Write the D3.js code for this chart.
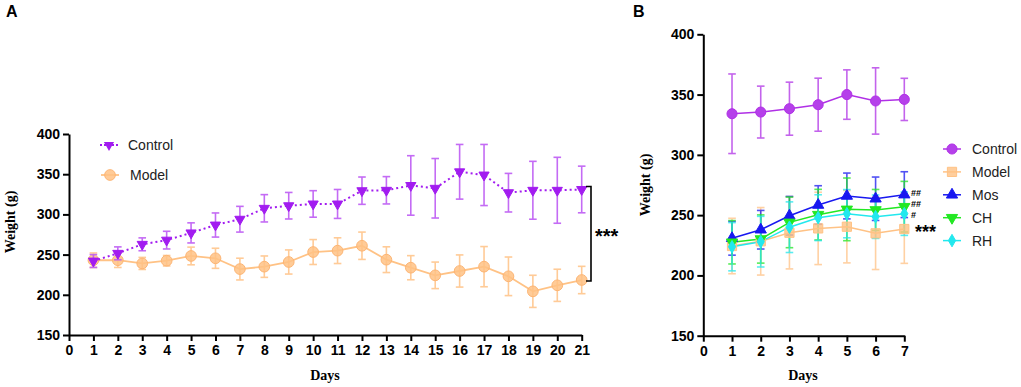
<!DOCTYPE html>
<html><head><meta charset="utf-8">
<script src="https://cdn.jsdelivr.net/npm/d3@7"></script>
<style>
html,body{margin:0;padding:0;background:#fff;}
svg{display:block;}
.tick text{font-family:"Liberation Sans",Arial,sans-serif;font-weight:bold;font-size:14px;fill:#000;}
</style></head>
<body>
<svg id="chart" width="1021" height="387"></svg>
<script>
// ---------- Data: Panel A ----------
const daysA = [1,2,3,4,5,6,7,8,9,10,11,12,13,14,15,16,17,18,19,20,21];
const controlA = [242,251.6,262.8,268,277,286.8,294,307.6,310.8,313,313,329.5,330,336,332.5,353,349,327,330,330,331];
const controlA_sd = [8,8,8,11,12.5,15,16,17,16.5,16.5,18,17,17,37,37,34,38,24,36,41,29];
const modelA = [243,243,239,242.4,248.3,245.4,232,235,240.8,253.2,254.9,261,243.7,233.7,224.2,229.6,235,223,204.3,211.8,218.4];
const modelA_sd = [9,9,7.5,6.5,11,12.5,13.5,13.3,15,15.5,16,17,16,15,16.5,20,25,24,20,20,17];
const xTicksA = [0,1,2,3,4,5,6,7,8,9,10,11,12,13,14,15,16,17,18,19,20,21];
const yTicks = [150,200,250,300,350,400];

// ---------- Data: Panel B ----------
const daysB = [1,2,3,4,5,6,7];
const controlB = [334.1,335.5,338.3,341.6,350,344.7,346];
const controlB_sd = [33,21.5,22,22,20.5,27.5,17.5];
const modelB = [224.4,228.3,235.4,239,240.4,234.9,238.5];
const modelB_sd = [23,28,30,30,30,30,28.5];
const mosB = [230.8,237.9,249.5,258.4,265.9,263.6,267];
const mosB_sd = [14,16,16,16,19,18,19];
const chB = [227.5,230.2,244,250.4,254.8,254.3,257];
const chB_sd = [18,20,21,21,26,17,21];
const rhB = [223.8,228,240,247.9,251.2,248.7,251.2];
const rhB_sd = [20,21,21,19,20,18,18];
const xTicksB = [0,1,2,3,4,5,6,7];
const seriesNamesB = ["Control","Model","Mos","CH","RH"];
const sigB = ["##","##","#","***"];

const svg = d3.select("#chart");
const sans = '"Liberation Sans",Arial,sans-serif';
const serif = '"Liberation Serif","Times New Roman",serif';

function drawAxes(g, x, y, xTicks, xLabelX, yLabelX, yLabelY) {
  const xa = g.append("g").attr("transform", `translate(0,${y.range()[0]})`)
    .call(d3.axisBottom(x).tickValues(xTicks).tickFormat(d3.format("d")).tickSize(6).tickSizeOuter(0).tickPadding(4));
  const ya = g.append("g").attr("transform", `translate(${x.range()[0]},0)`)
    .call(d3.axisLeft(y).tickValues(yTicks).tickSize(6).tickSizeOuter(0).tickPadding(3));
  [xa, ya].forEach(a => { a.selectAll("path,line").attr("stroke","#000").attr("stroke-width",2); });
  g.append("text").attr("x", xLabelX).attr("y", 380).attr("text-anchor","middle")
    .attr("font-family", serif).attr("font-weight","bold").attr("font-size",14).text("Days");
  g.append("text").attr("transform", `translate(${yLabelX},${yLabelY}) rotate(-90)`)
    .attr("text-anchor","middle").attr("dominant-baseline","middle")
    .attr("font-family", serif).attr("font-weight","bold").attr("font-size",14).text("Weight (g)");
}

function errorBars(g, x, y, days, mean, sd, color, opacity) {
  const eg = g.append("g").attr("stroke", color).attr("stroke-width",1.6).attr("opacity", opacity);
  days.forEach((d,i) => {
    const cx = x(d), y1 = y(mean[i]+sd[i]), y2 = y(mean[i]-sd[i]);
    eg.append("line").attr("x1",cx).attr("x2",cx).attr("y1",y1).attr("y2",y2);
    eg.append("line").attr("x1",cx-3.8).attr("x2",cx+3.8).attr("y1",y1).attr("y2",y1);
    eg.append("line").attr("x1",cx-3.8).attr("x2",cx+3.8).attr("y1",y2).attr("y2",y2);
  });
}

function line(g, x, y, days, mean, color, dash, width) {
  g.append("path").datum(days.map((d,i)=>[d,mean[i]]))
    .attr("fill","none").attr("stroke",color).attr("stroke-width",width)
    .attr("stroke-dasharray", dash || null)
    .attr("d", d3.line().x(d=>x(d[0])).y(d=>y(d[1])));
}

function markers(g, x, y, days, mean, sym, size, fill, stroke, rot, fop) {
  days.forEach((d,i) => {
    g.append("path").attr("d", d3.symbol().type(sym).size(size)())
      .attr("transform", `translate(${x(d)},${y(mean[i])}) rotate(${rot||0})`)
      .attr("fill", fill).attr("fill-opacity", fop==null?1:fop).attr("stroke", stroke).attr("stroke-width",1);
  });
}

// ---------- Panel A ----------
const xA = d3.scaleLinear().domain([0,21]).range([69,581.7]);
const yA = d3.scaleLinear().domain([150,400]).range([335,134]);
const gA = svg.append("g");
const purple = "#A21CF0", purpleLight = "#BE5CF4";
const orange = "#FFC285", orangeDark = "#FDB574";

errorBars(gA, xA, yA, daysA, modelA, modelA_sd, orange, 0.85);
line(gA, xA, yA, daysA, modelA, orange, null, 1.8);
markers(gA, xA, yA, daysA, modelA, d3.symbolCircle, 90, orange, orangeDark, 0, 0.85);
errorBars(gA, xA, yA, daysA, controlA, controlA_sd, purpleLight, 0.9);
line(gA, xA, yA, daysA, controlA, purple, "2,3", 2);
markers(gA, xA, yA, daysA, controlA, d3.symbolTriangle, 45, purple, purple, 180, 1);
drawAxes(gA, xA, yA, xTicksA, 325, 12, 222);

// bracket
const bx = 591;
const yb1 = yA(controlA[20]) - 3, yb2 = yA(modelA[20]) + 1;
gA.append("path").attr("d", `M${bx-5},${yb1}H${bx}V${yb2}H${bx-5}`)
  .attr("fill","none").attr("stroke","#000").attr("stroke-width",1.6);
gA.append("text").attr("x",595).attr("y",(yb1+yb2)/2+9).attr("font-family",sans).attr("font-weight","bold")
  .attr("font-size",20).text("***");

// legend A
const legA = gA.append("g");
legA.append("line").attr("x1",100).attr("x2",118).attr("y1",145).attr("y2",145)
  .attr("stroke",purple).attr("stroke-width",2).attr("stroke-dasharray","2,2");
legA.append("path").attr("d", d3.symbol().type(d3.symbolTriangle).size(45)())
  .attr("transform","translate(109,145) rotate(180)").attr("fill",purple);
legA.append("text").attr("x",128).attr("y",150).attr("font-family",sans).attr("font-size",14).attr("fill","#222").text("Control");
legA.append("line").attr("x1",101).attr("x2",119).attr("y1",175).attr("y2",175)
  .attr("stroke",orange).attr("stroke-width",1.8);
legA.append("path").attr("d", d3.symbol().type(d3.symbolCircle).size(90)())
  .attr("transform","translate(110,175)").attr("fill",orange).attr("fill-opacity",0.85).attr("stroke",orangeDark);
legA.append("text").attr("x",130).attr("y",180).attr("font-family",sans).attr("font-size",14).attr("fill","#222").text("Model");

svg.append("text").attr("x",6).attr("y",17).attr("font-family",sans).attr("font-weight","bold").attr("font-size",16).text("A");
svg.append("text").attr("x",633).attr("y",17).attr("font-family",sans).attr("font-weight","bold").attr("font-size",16).text("B");

// ---------- Panel B ----------
const xB = d3.scaleLinear().domain([0,7]).range([703.3,904.3]);
const yB = d3.scaleLinear().domain([150,400]).range([335.7,34.3]);
const gB = svg.append("g");
const cfg = [
  {name:seriesNamesB[0], mean:controlB, sd:controlB_sd, color:"#B030E6", fill:"#B540EA", sym:d3.symbolCircle, size:80, rot:0},
  {name:seriesNamesB[1], mean:modelB, sd:modelB_sd, color:"#FFC285", fill:"#FFC285", sym:d3.symbolSquare, size:85, rot:0},
  {name:seriesNamesB[2], mean:mosB, sd:mosB_sd, color:"#1818F0", fill:"#1818F0", sym:d3.symbolTriangle, size:55, rot:0},
  {name:seriesNamesB[3], mean:chB, sd:chB_sd, color:"#22E822", fill:"#22E822", sym:d3.symbolTriangle, size:55, rot:180},
  {name:seriesNamesB[4], mean:rhB, sd:rhB_sd, color:"#22E8EE", fill:"#22E8EE", sym:d3.symbolDiamond, size:45, rot:0}
];
cfg.forEach(c => errorBars(gB, xB, yB, daysB, c.mean, c.sd, c.color, 0.75));
cfg.forEach(c => line(gB, xB, yB, daysB, c.mean, c.color, null, 1.5));
cfg.forEach(c => markers(gB, xB, yB, daysB, c.mean, c.sym, c.size, c.fill, c.color, c.rot, c.name==="Model"?0.8:1));
drawAxes(gB, xB, yB, xTicksB, 803, 647, 185);

// significance marks (placed beside the day-7 points of Mos, CH, RH, Model)
const sigY = [mosB[6], chB[6], rhB[6], modelB[6]];
const sigDy = [1.8, -0.2, 4.3, 9];
sigB.forEach((s,i) => {
  const big = s === "***";
  gB.append("text").attr("x", big ? 915 : 911).attr("y", yB(sigY[i]) + sigDy[i])
    .attr("font-family", sans).attr("font-weight","bold").attr("font-size", big ? 18 : 9).text(s);
});

// legend B
cfg.forEach((c,i) => {
  const ly = 149 + i*22.9;
  gB.append("line").attr("x1",943).attr("x2",961).attr("y1",ly).attr("y2",ly).attr("stroke",c.color).attr("stroke-width",1.5);
  gB.append("path").attr("d", d3.symbol().type(c.sym).size(c.size)())
    .attr("transform",`translate(952,${ly}) rotate(${c.rot})`).attr("fill",c.fill).attr("stroke",c.color)
    .attr("fill-opacity", c.name==="Model"?0.8:1);
  gB.append("text").attr("x",972).attr("y",ly+5).attr("font-family",sans).attr("font-size",14).attr("fill","#222").text(c.name);
});
</script>
</body></html>
